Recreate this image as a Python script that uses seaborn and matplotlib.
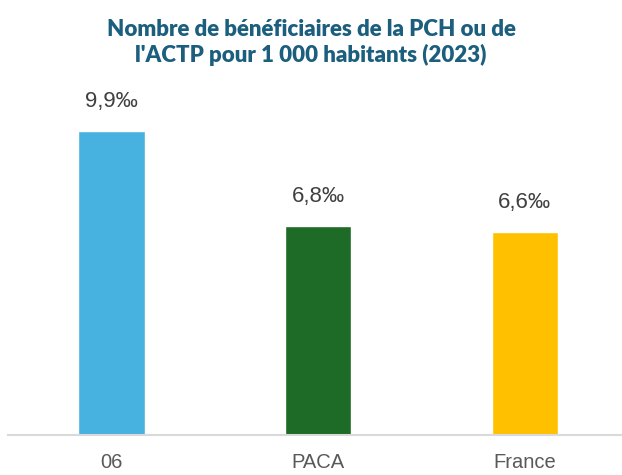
import matplotlib
matplotlib.use('Agg')
import matplotlib.pyplot as plt
import seaborn as sns
import pandas as pd

# data
territoires = ['06', 'PACA', 'France']
taux = [9.9, 6.8, 6.6]
etiquettes = ['9,9‰', '6,8‰', '6,6‰']
couleurs = ['#47B1E0', '#1D6B27', '#FFC000']

sns.set_theme(style='white')
plt.rcParams['font.family'] = ['Liberation Sans', 'DejaVu Sans']

df = pd.DataFrame({'territoire': territoires, 'taux': taux})

fig = plt.figure(figsize=(6.22, 4.75), dpi=100)
ax = fig.add_axes([0.013, 0.084, 0.987, 0.7756])

sns.barplot(data=df, x='territoire', y='taux', hue='territoire',
            palette=couleurs, width=0.32, saturation=1, legend=False, ax=ax)

ax.set_xlim(-0.5, 2.47)
ax.set_ylim(0, 12)
ax.set_xlabel('')
ax.set_ylabel('')
ax.set_yticks([])

for i, (v, lab) in enumerate(zip(taux, etiquettes)):
    ax.annotate(lab, (i, v), xytext=(0, 14), textcoords='offset points',
                ha='center', va='bottom', fontsize=16, color='#404040')

for s in ['left', 'right', 'top']:
    ax.spines[s].set_visible(False)
ax.spines['bottom'].set_color('#D9D9D9')
ax.spines['bottom'].set_linewidth(1.5)
ax.tick_params(axis='x', length=0, pad=13, labelsize=14.5, labelcolor='#595959')

fig.text(0.5, 0.91, "Nombre de bénéficiaires de la PCH ou de\nl'ACTP pour 1 000 habitants (2023)",
         ha='center', va='center', fontsize=16, fontweight='heavy',
         color='#1B5E7E', linespacing=1.2, family=['Lato', 'DejaVu Sans'])

fig.savefig('out.png', dpi=100)
